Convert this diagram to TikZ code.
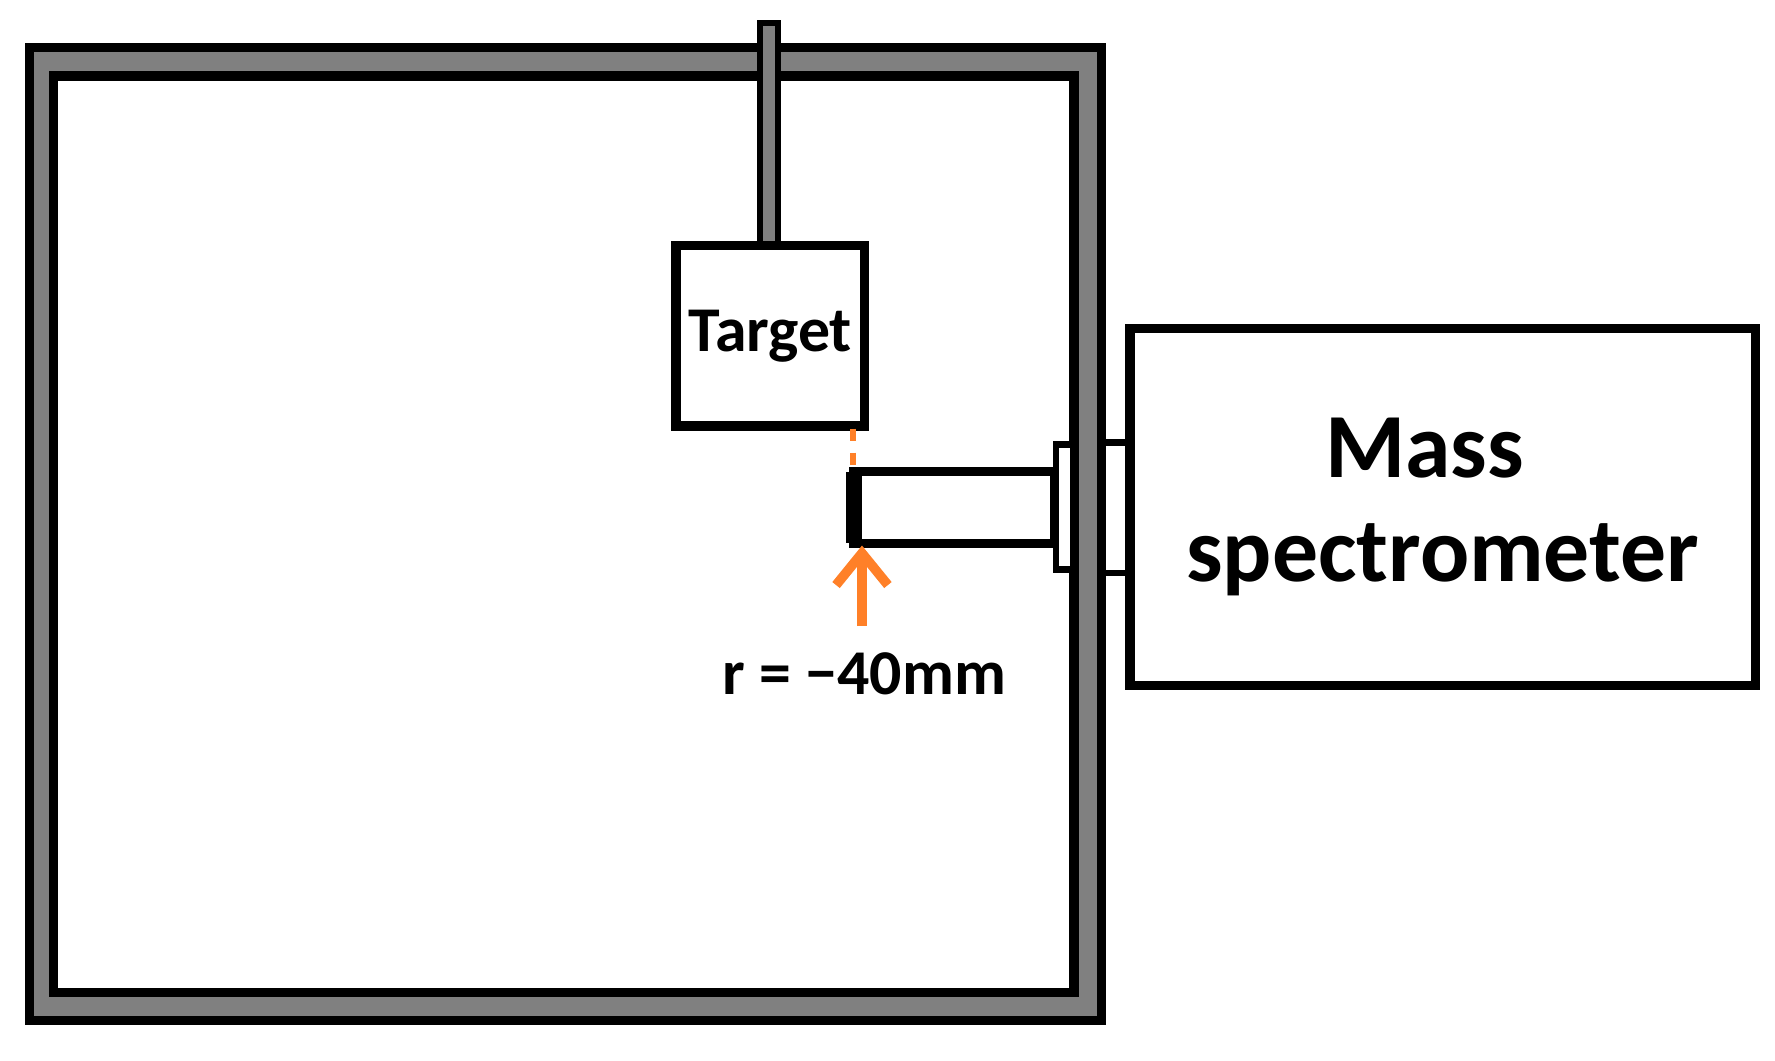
\documentclass[tikz,border=0pt]{standalone}
\usepackage{fontspec}
\setmainfont{Carlito}
\usetikzlibrary{arrows.meta}
\definecolor{wallgray}{RGB}{128,128,128}
\definecolor{arroworange}{RGB}{255,128,40}
\tikzset{
  part/.style={draw=black, line width=2.3pt}
}
\begin{document}
\begin{tikzpicture}[x=0.01cm, y=-0.01cm]
\useasboundingbox (0,0) rectangle (1565,935);

% Chamber wall
\draw[part, fill=wallgray] (26,42) rectangle (971,900);
\draw[part, fill=white] (47,67) rectangle (947,875);

% Holder rod and target
\draw[part, line width=1.6pt, fill=wallgray] (670,20) rectangle (686,216);
\node[part, fill=white, minimum width=1.66cm, minimum height=1.59cm, inner sep=0pt, font=\bfseries\fontsize{16}{18}\selectfont] (target) at (679,296) {Target};

% Inlet tube, flange and connector
\draw[part, line width=1.6pt, fill=white] (931,392) rectangle (946,502);
\draw[part, fill=white] (753,416) rectangle (930,479);
\draw[line width=4pt] (753,416) -- (753,479);
\draw[part, line width=1.6pt, fill=white] (972,390) rectangle (997,505);
\coordinate (tip) at (760,481);
\coordinate (tail) at (760,552);

% Mass spectrometer
\node[part, fill=white, minimum width=5.51cm, minimum height=3.14cm, align=center, font=\bfseries\fontsize{23}{26}\selectfont] (ms) at (1272,447) {\hspace*{-0.4em}Mass\\ spectrometer};

% Sampling position
\draw[arroworange, line width=1.3pt, dashed] (752,378) -- (752,414);
\draw[arroworange, line width=2.4pt, -{Straight Barb[length=8pt, width=13pt]}] (tail) -- (tip);
\node[font=\bfseries\fontsize{16}{19}\selectfont] (rlabel) at (762,594) {r = −40mm};
\end{tikzpicture}
\end{document}
